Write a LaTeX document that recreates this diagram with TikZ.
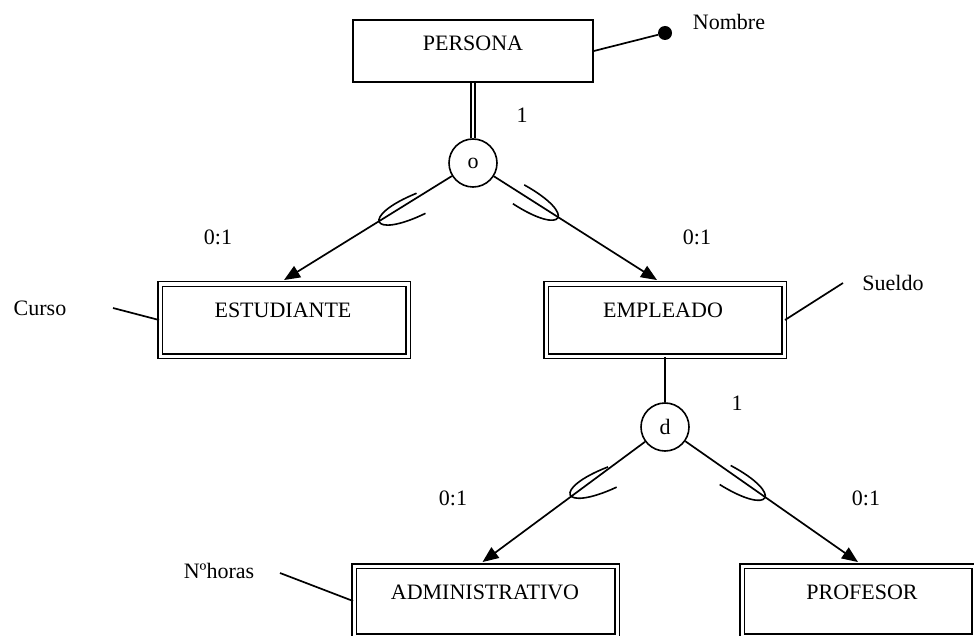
\documentclass[tikz,border=0pt]{standalone}
\usepackage{fontspec}
\setmainfont{Liberation Serif}
\usetikzlibrary{arrows.meta}
\begin{document}
\begin{tikzpicture}[x=1pt,y=-1pt,
  every node/.style={font=\fontsize{22}{26}\selectfont, inner sep=0pt},
  line/.style={line width=1.7pt},
  ent/.style={draw, rectangle, line width=1.7pt, inner sep=0pt},
  dbox/.style={draw, rectangle, line width=1.9pt, double, double distance=3pt, inner sep=0pt},
  cat/.style={draw, circle, line width=1.6pt, minimum size=48pt, inner sep=0pt},
  isa/.style={line width=1.7pt, -{Triangle[length=16pt,width=13pt]}},
  subset/.pic={\draw[line width=1.6pt] (46,11) .. controls (-15,13) and (-15,-13) .. (46,-11);}
]
\useasboundingbox (0,0) rectangle (974,636);
\clip (0,0) rectangle (974,636);

% superclass
\node[ent, minimum width=240pt, minimum height=62pt] (persona) at (473,51) {};
\node (personaT) at (473,43) {PERSONA};
\node[circle, fill, minimum size=14pt] (dot) at (665,33) {};
\node (nombre) at (729,22) {Nombre};
\draw[line] (persona.east) -- (dot);

% overlapping specialisation
\node[cat] (o) at (473,163) {o};
\draw[line width=1.3pt, double, double distance=2.5pt] (persona.south) -- (o.north);
\node (oone) at (522,115) {1};
\node (ol) at (218,237) {0:1};
\node (or) at (697,237) {0:1};

% first level subclasses
\node[dbox, minimum width=248pt, minimum height=72pt] (est) at (284,320) {};
\node (estT) at (283,310) {ESTUDIANTE};
\node[dbox, minimum width=238pt, minimum height=72pt] (emp) at (665,320) {};
\node (empT) at (663,310) {EMPLEADO};

\draw[isa] (o) -- ([yshift=3pt]est.north);
\draw[isa] (o) -- ([xshift=-8pt,yshift=3pt]emp.north);
\pic[rotate=24] at (379,222) {subset};
\pic[rotate=149] at (558,218) {subset};

% attributes of the first level
\node (curso) at (40,308) {Curso};
\coordinate (cursoL) at (113,308);
\draw[line] (cursoL) -- (est.west);
\node (sueldo) at (893,283) {Sueldo};
\coordinate (sueldoL) at (843,283);
\draw[line] (sueldoL) -- (emp.east);

% disjoint specialisation
\node[cat] (d) at (665,427) {d};
\draw[line] (emp.south) -- (d.north);
\node (done) at (737,403) {1};
\node (dl) at (453,498) {0:1};
\node (dr) at (866,498) {0:1};

% second level subclasses
\node[dbox, minimum width=263pt, minimum height=70pt] (adm) at (485.5,601) {};
\node (admT) at (485,592) {ADMINISTRATIVO};
\node[dbox, minimum width=232pt, minimum height=70pt] (prof) at (858,601) {};
\node (profT) at (862,592) {PROFESOR};

\draw[isa] (d) -- ([xshift=-3pt,yshift=3pt]adm.north);
\draw[isa] (d) -- ([yshift=3pt]prof.north);
\pic[rotate=23] at (570,495) {subset};
\pic[rotate=150] at (765,498) {subset};

% attribute of ADMINISTRATIVO
\node (horas) at (219,571) {Nºhoras};
\coordinate (horasL) at (280,573);
\draw[line] (horasL) -- (adm.west);
\end{tikzpicture}
\end{document}
